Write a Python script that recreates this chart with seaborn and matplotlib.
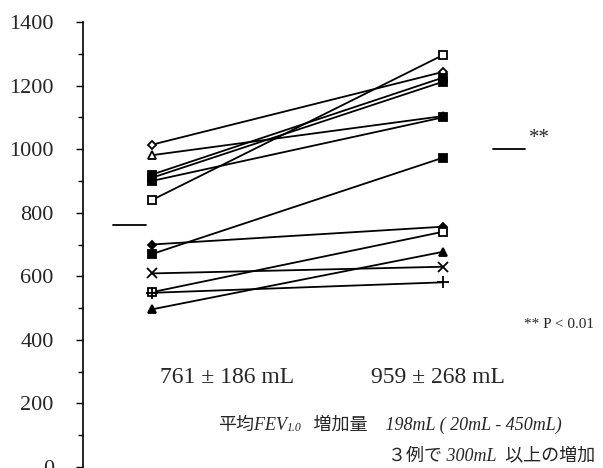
import matplotlib
matplotlib.use('Agg')
import matplotlib.pyplot as plt
from matplotlib.ticker import MultipleLocator
import numpy as np
import pandas as pd
import seaborn as sns

# -- данные (значения FEV1.0 до / после, mL) --
before = [1014, 981, 920, 910, 900, 840, 700, 670, 609, 550, 548, 496]
after = [1243, 1104, 1225, 1212, 1100, 1296, 756, 973, 630, 740, 581, 677]
markers = ['D', '^', 's', 's', 's', 's', 'D', 's', 'x', 's', '+', '^']
filled = [False, False, True, True, True, False, True, True, True, False, True, True]
mean_before = 761
mean_after = 1000
mean_labels = ['761 ± 186 mL', '959 ± 268 mL']

sns.set_theme(style='white')
plt.rcParams['font.family'] = ['Liberation Serif', 'Noto Sans CJK JP']

fig = plt.figure(figsize=(6.03, 4.68), dpi=100)
ax = fig.add_axes([83 / 603, 1 / 468, 520 / 603, 445 / 468])

rows = []
for i, (b, a) in enumerate(zip(before, after)):
    rows.append({'subject': i, 'time': 0, 'value': b})
    rows.append({'subject': i, 'time': 1, 'value': a})
df = pd.DataFrame(rows)

sizes = {'D': 4.5, '^': 6, 's': 6, 'x': 7, '+': 8}
for i in range(len(before)):
    sub = df[df['subject'] == i]
    sns.lineplot(data=sub, x='time', y='value', ax=ax, color='black',
                 lw=1.3, marker=markers[i], ms=sizes[markers[i]],
                 mew=1.3, mfc='black' if filled[i] else 'white', mec='black',
                 estimator=None, legend=False)

# средние значения
ax.plot([-0.134, -0.021], [mean_before, mean_before], color='black', lw=1.3)
ax.plot([1.172, 1.282], [mean_after, mean_after], color='black', lw=1.3)
ax.text(1.295, 1035, '**', fontsize=15, ha='left', va='center')

ax.text(0.258, 283, mean_labels[0], fontsize=17, ha='center', va='center')
ax.text(0.983, 283, mean_labels[1], fontsize=17, ha='center', va='center')
ax.text(1.52, 447, '** P < 0.01', fontsize=11, ha='right', va='center')

# подписи на японском
fs = 13
t1 = ax.text(0.227, 104, '平均FEV', fontsize=fs, style='italic',
             ha='left', va='bottom')
t2 = ax.annotate('1.0', xy=(1, 0), xycoords=t1, fontsize=8.5, style='italic',
                 ha='left', va='bottom')
ax.annotate(' 増加量    198mL ( 20mL - 450mL)', xy=(1, 0), xycoords=t1,
            xytext=(16, 0), textcoords='offset points',
            fontsize=fs, style='italic', ha='left', va='bottom')
ax.text(1.522, 22, '３例で 300mL  以上の増加', fontsize=fs, style='italic',
        ha='right', va='baseline')

ax.set_xlim(-0.237, 1.550)
ax.set_ylim(0, 1400)
ax.set_xlabel('')
ax.set_ylabel('')
ax.set_xticks([])
ax.yaxis.set_major_locator(MultipleLocator(200))
ax.yaxis.set_minor_locator(MultipleLocator(100))
ax.tick_params(axis='y', which='major', left=True, length=5, width=1,
               color='black', labelsize=16, pad=16)
ax.tick_params(axis='y', which='minor', left=True, length=3.5, width=1,
               color='black')
for s in ['top', 'right', 'bottom']:
    ax.spines[s].set_visible(False)
ax.spines['left'].set_color('black')
ax.spines['left'].set_linewidth(1.2)
ax.set_facecolor('white')
fig.patch.set_facecolor('white')

fig.savefig('out.png', dpi=100, facecolor='white')
